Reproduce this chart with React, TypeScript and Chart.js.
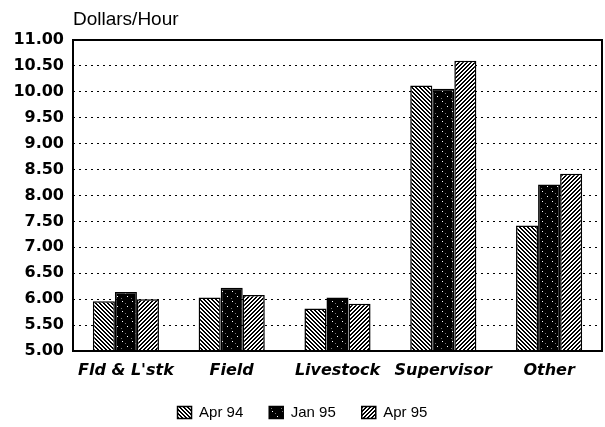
import React, { useEffect, useRef } from "react";
import { Chart, registerables } from "chart.js";

Chart.register(...registerables);

const categories = ["Fld & L'stk", "Field", "Livestock", "Supervisor", "Other"];
const seriesNames = ["Apr 94", "Jan 95", "Apr 95"];
const apr94 = [5.96, 6.03, 5.82, 10.12, 7.42];
const jan95 = [6.14, 6.22, 6.03, 10.06, 8.21];
const apr95 = [6.0, 6.08, 5.91, 10.6, 8.42];
const yMin = 5;
const yMax = 11;
const yStep = 0.5;
const yTitle = "Dollars/Hour";

function makePattern(ctx: CanvasRenderingContext2D, kind: string): CanvasPattern | string {
  const s = kind === "dots" ? 10 : 4;
  const c = document.createElement("canvas");
  c.width = s;
  c.height = s;
  const g = c.getContext("2d");
  if (!g) return "#000";
  if (kind === "dots") {
    g.fillStyle = "#000";
    g.fillRect(0, 0, s, s);
    g.fillStyle = "#fff";
    g.fillRect(2, 1, 1, 1);
    g.fillRect(7, 6, 1, 1);
    g.fillStyle = "#777";
    g.fillRect(5, 3, 1, 1);
    g.fillRect(1, 8, 1, 1);
  } else {
    g.fillStyle = "#fff";
    g.fillRect(0, 0, s, s);
    g.fillStyle = "#000";
    for (let y = 0; y < s; y++) {
      for (let x = 0; x < s; x++) {
        const v = kind === "back" ? (x - y + 8) % 4 : (x + y) % 4;
        if (v < 2) g.fillRect(x, y, 1, 1);
      }
    }
  }
  return ctx.createPattern(c, "repeat") || "#000";
}

export default function App() {
  const canvasRef = useRef<HTMLCanvasElement | null>(null);

  useEffect(() => {
    const canvas = canvasRef.current;
    if (!canvas) return;
    const ctx = canvas.getContext("2d");
    if (!ctx) return;

    const fills = [makePattern(ctx, "back"), makePattern(ctx, "dots"), makePattern(ctx, "fwd")];
    const values = [apr94, jan95, apr95];

    const titlePlugin = {
      id: "yTitleText",
      afterDraw(chart: any) {
        const c = chart.ctx;
        c.save();
        c.font = '19px "Liberation Sans"';
        c.fillStyle = "#000";
        c.textAlign = "left";
        c.textBaseline = "alphabetic";
        c.fillText(yTitle, chart.chartArea.left, 25);
        c.restore();
      },
    };

    const framePlugin = {
      id: "frame",
      afterDatasetsDraw(chart: any) {
        const { ctx: c, chartArea: a } = chart;
        c.save();
        c.strokeStyle = "#000";
        c.lineWidth = 2;
        c.strokeRect(a.left, a.top, a.right - a.left, a.bottom - a.top);
        c.restore();
      },
    };

    const chart = new Chart(canvas, {
      type: "bar",
      data: {
        labels: categories,
        datasets: seriesNames.map((name, i) => ({
          label: name,
          data: values[i],
          backgroundColor: fills[i] as any,
          borderColor: "#000",
          borderWidth: 1.5,
          categoryPercentage: 0.625,
          barPercentage: 1,
        })),
      },
      options: {
        responsive: false,
        animation: false,
        devicePixelRatio: 1,
        layout: { padding: { left: 3, right: 3, top: 40, bottom: -3 } },
        scales: {
          x: {
            grid: { display: false },
            border: { display: false },
            ticks: {
              color: "#000",
              padding: 2,
              maxRotation: 0,
              autoSkip: false,
              font: { family: '"DejaVu Sans"', size: 16, weight: "bold", style: "italic" },
            },
            afterFit: (scale: any) => {
              scale.height = 28;
            },
          },
          y: {
            min: yMin,
            max: yMax,
            grid: { color: "#000", lineWidth: 1, drawTicks: false },
            border: { display: false, dash: [2, 4] },
            ticks: {
              stepSize: yStep,
              color: "#000",
              padding: 9,
              font: { family: '"DejaVu Sans"', size: 16, weight: "bold" },
              callback: (v: any) => Number(v).toFixed(2),
            },
            afterFit: (scale: any) => {
              scale.width = 70;
            },
          },
        },
        plugins: {
          legend: {
            position: "bottom",
            labels: {
              boxWidth: 14,
              boxHeight: 12,
              padding: 26,
              color: "#000",
              font: { family: '"Liberation Sans"', size: 15 },
            },
          },
          tooltip: { enabled: false },
          title: { display: false },
        },
      },
      plugins: [titlePlugin, framePlugin],
    });

    return () => {
      chart.destroy();
    };
  }, []);

  return (
    <div style={{ position: "absolute", left: 0, top: 0, width: 605, height: 427, background: "#fff" }}>
      <canvas ref={canvasRef} width={605} height={427} style={{ width: 605, height: 427, display: "block" }} />
    </div>
  );
}
